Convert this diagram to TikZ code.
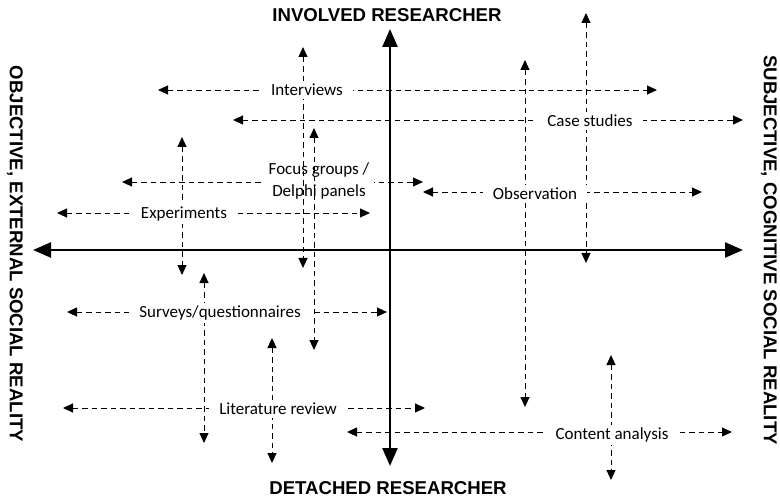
\documentclass[tikz,border=0pt]{standalone}
\usepackage{fontspec}
\setmainfont{Carlito}
\newfontfamily\headfont{Liberation Sans}
\usetikzlibrary{arrows.meta}
\begin{document}
\begin{tikzpicture}[x=1pt,y=-1pt,
  axis/.style={line width=2.4pt,
    {Triangle[length=18pt,width=15pt]}-{Triangle[length=18pt,width=15pt]}},
  span/.style={line width=0.9pt,dash pattern=on 5.5pt off 4pt,
    {Triangle[length=10pt,width=9pt]}-{Triangle[length=10pt,width=9pt]}},
  method/.style={fill=white,inner xsep=10pt,inner ysep=3pt,align=center,
    font=\fontsize{17}{22}\selectfont},
  pole/.style={inner sep=0pt,font=\headfont\bfseries\fontsize{18.6}{22}\selectfont}]
\useasboundingbox (0,0) rectangle (780,500);

% ---- end points of the dashed ranges ----
% horizontal ranges
\coordinate (intL) at (158,90);   \coordinate (intR) at (657,90);
\coordinate (casL) at (233,120);  \coordinate (casR) at (743,120);
\coordinate (focL) at (122,182);  \coordinate (focR) at (423,182);
\coordinate (obsL) at (423,192);  \coordinate (obsR) at (702,192);
\coordinate (expL) at (57,213);   \coordinate (expR) at (370,213);
\coordinate (surL) at (67,312);   \coordinate (surR) at (387,312);
\coordinate (litL) at (63,408);   \coordinate (litR) at (425,408);
\coordinate (conL) at (347,432);  \coordinate (conR) at (732,432);
% vertical ranges
\coordinate (intT) at (303,47);   \coordinate (intB) at (303,268);
\coordinate (focT) at (314,128);  \coordinate (focB) at (314,350);
\coordinate (expT) at (182,137);  \coordinate (expB) at (182,275);
\coordinate (surT) at (204,273);  \coordinate (surB) at (204,443);
\coordinate (litT) at (272,338);  \coordinate (litB) at (272,463);
\coordinate (obsT) at (525,60);   \coordinate (obsB) at (525,407);
\coordinate (casT) at (586,13);   \coordinate (casB) at (586,263);
\coordinate (conT) at (611,355);  \coordinate (conB) at (611,480);

% ---- dashed ranges ----
\draw[span] (intL) -- (intR);
\draw[span] (casL) -- (casR);
\draw[span] (focL) -- (focR);
\draw[span] (obsL) -- (obsR);
\draw[span] (expL) -- (expR);
\draw[span] (surL) -- (surR);
\draw[span] (litL) -- (litR);
\draw[span] (conL) -- (conR);
\draw[span] (expT) -- (expB);
\draw[span] (surT) -- (surB);
\draw[span] (litT) -- (litB);
\draw[span] (obsT) -- (obsB);
\draw[span] (casT) -- (casB);
\draw[span] (conT) -- (conB);

% ---- method labels ----
\node[method] (cas) at (590,121) {Case studies};
\node[method,inner xsep=5pt] (foc) at (319,181) {Focus groups /\\Delphi panels};
\node[method] (obs) at (535,194) {Observation};
\node[method] (exp) at (184,214) {Experiments};
\node[method] (sur) at (220,313) {Surveys/questionnaires};
\node[method] (lit) at (278,409) {Literature review};
\node[method] (con) at (612,435) {Content analysis};

% these two ranges run across the focus-group label
\draw[span] (intT) -- (intB);
\draw[span] (focT) -- (focB);
\node[method] (int) at (307,90)  {Interviews};

% ---- main axes ----
\coordinate (top) at (390,29);    \coordinate (bottom) at (390,466);
\coordinate (left) at (33,250);   \coordinate (right) at (743,250);
\draw[axis] (bottom) -- (top);
\draw[axis] (left) -- (right);

% ---- pole captions ----
\node[pole] (inv) at (387,15)  {INVOLVED RESEARCHER};
\node[pole] (det) at (388,488) {DETACHED RESEARCHER};
\node[pole,rotate=-90] (obj) at (15,254)  {OBJECTIVE, EXTERNAL SOCIAL REALITY};
\node[pole,rotate=-90] (sub) at (769,250) {SUBJECTIVE, COGNITIVE SOCIAL REALITY};
\end{tikzpicture}
\end{document}
